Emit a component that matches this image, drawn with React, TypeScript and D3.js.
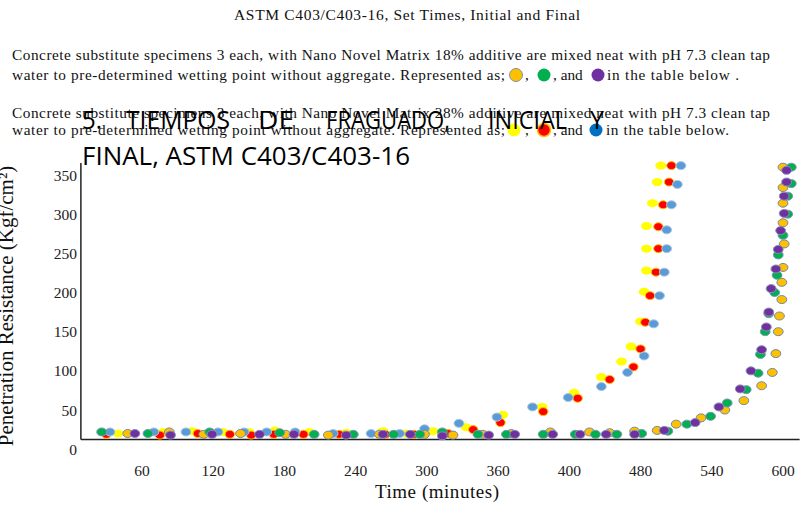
import * as d3 from "d3";

// [time (min), penetration resistance (Kgf/cm²)]
const orangeSeries: [number, number][] = [
  [48, 20], [83, 22], [112, 19], [143, 20], [181, 19], [217, 18], [260, 19], [298, 19], [322, 18],
  [347, 19], [371, 20], [404, 22], [437, 22], [454, 21], [475, 23], [494, 24], [510, 32], [531, 40],
  [551, 50], [567, 62], [582, 81], [591, 98], [594, 122], [596, 150], [597, 170], [599, 191],
  [599, 213], [600, 232], [601, 262], [600, 289], [600, 314], [600, 334], [600, 360],
];
const greenSeries: [number, number][] = [
  [26, 22], [65, 20], [117, 22], [176, 21], [205, 19], [238, 19], [272, 19], [294, 19], [313, 22],
  [343, 19], [367, 19], [398, 19], [425, 19], [442, 19], [460, 19], [481, 20], [503, 23], [519, 32],
  [539, 42], [553, 59], [569, 76], [579, 97], [581, 121], [585, 150], [588, 173], [593, 200],
  [595, 222], [596, 248], [600, 273], [604, 300], [604, 323], [607, 339], [607, 360],
];
const purpleSeries: [number, number][] = [
  [54, 20], [84, 18], [119, 19], [159, 19], [188, 19], [232, 18], [263, 19], [286, 19], [313, 17],
  [352, 18], [374, 19], [406, 19], [429, 19], [451, 19], [475, 19], [500, 24], [526, 34], [546, 54],
  [564, 77], [573, 100], [582, 127], [586, 156], [588, 175], [590, 205], [594, 230], [596, 255],
  [598, 279], [601, 301], [601, 323], [603, 341], [603, 356],
];
const yellowSeries: [number, number][] = [
  [40, 20], [78, 22], [102, 23], [128, 22], [150, 22], [172, 24], [201, 22], [232, 21], [263, 23],
  [282, 20], [305, 23], [333, 28], [364, 44], [397, 54], [424, 72], [447, 92], [464, 112],
  [472, 131], [480, 163], [483, 201], [485, 228], [485, 256], [485, 285], [490, 314], [494, 341],
  [497, 362],
];
const redSeries: [number, number][] = [
  [30, 19], [75, 18], [107, 20], [134, 19], [152, 18], [171, 19], [196, 19], [226, 19], [265, 19],
  [289, 19], [318, 20], [339, 25], [362, 34], [398, 48], [427, 65], [454, 89], [474, 105],
  [480, 128], [484, 162], [488, 196], [493, 226], [495, 256], [495, 284], [499, 312], [504, 341],
  [506, 362],
];
const blueSeries: [number, number][] = [
  [33, 22], [70, 22], [97, 22], [124, 22], [146, 22], [165, 22], [189, 22], [221, 20], [253, 20],
  [277, 20], [298, 26], [327, 33], [359, 41], [389, 54], [419, 66], [447, 80], [469, 98],
  [483, 119], [491, 160], [496, 196], [500, 226], [502, 256], [502, 280], [506, 312], [511, 338],
  [514, 362],
];

const xTickValues = [60, 120, 180, 240, 300, 360, 420, 480, 540, 600];
const xTickLabels = ["60", "120", "180", "240", "300", "360", "400", "480", "540", "600"];
const yTickValues = [0, 50, 100, 150, 200, 250, 300, 350];

const serif = "'Liberation Serif', 'Times New Roman', serif";
const sans = "'Open Sans', 'Noto Sans', sans-serif";

const seriesStyles = [
  { data: yellowSeries, fill: "#ffff00", stroke: "none", rx: 5.4 },
  { data: redSeries, fill: "#ff0000", stroke: "#ffc000", rx: 4.7 },
  { data: blueSeries, fill: "#5b9bd5", stroke: "#a8c6e6", rx: 4.9 },
  { data: orangeSeries, fill: "#ffc000", stroke: "#6f8aab", rx: 4.9 },
  { data: greenSeries, fill: "#00b050", stroke: "#7f96b3", rx: 4.9 },
  { data: purpleSeries, fill: "#7030a0", stroke: "#8a8fb5", rx: 4.9 },
];

export default function App() {
  const width = 801;
  const height = 505;

  const x = d3.scaleLinear().domain([0, 600]).range([70.8, 783]);
  const y = d3.scaleLinear().domain([0, 350]).range([449.2, 175]);

  const axisY = y(12.5);
  const axisX = x(8.5);

  return (
    <svg
      width={width}
      height={height}
      style={{ position: "absolute", left: 0, top: 0, background: "#fff" }}
    >
      {/* heading + notes */}
      <text x={407} y={20} textAnchor="middle" fontFamily={serif} fontSize={15.5} fill="#111" textLength={346}>
        ASTM C403/C403-16, Set Times, Initial and Final
      </text>

      <g fontFamily={serif} fontSize={15.3} fill="#111">
        <text x={12} y={60} textLength={758}>
          Concrete substitute specimens 3 each, with Nano Novel Matrix 18% additive are mixed neat with pH 7.3 clean tap
        </text>
        <text x={12} y={80} textLength={493}>
          water to pre-determined wetting point without aggregate. Represented as;
        </text>
        <text x={525} y={80}>,</text>
        <text x={553} y={80}>, and</text>
        <text x={607} y={80} textLength={132}>in the table below .</text>
        <circle cx={516} cy={75} r={6.5} fill="#ffc000" stroke="#7f93ad" strokeWidth={1} />
        <circle cx={544} cy={75} r={6.5} fill="#00b050" />
        <circle cx={598} cy={75} r={6.5} fill="#7030a0" />

        <text x={12} y={118} textLength={758}>
          Concrete substitute specimens 3 each, with Nano Novel Matrix 28% additive are mixed neat with pH 7.3 clean tap
        </text>
        <text x={12} y={135} textLength={493}>
          water to pre-determined wetting point without aggregate. Represented as;
        </text>
        <text x={525} y={135}>,</text>
        <text x={553} y={135}>, and</text>
        <text x={606} y={135} textLength={123}>in the table below.</text>
        <circle cx={514} cy={130} r={6.5} fill="#ffff00" />
        <circle cx={544} cy={130} r={6.5} fill="#ff0000" stroke="#ffc000" strokeWidth={1.5} />
        <circle cx={596} cy={130} r={6.5} fill="#0070c0" />
      </g>

      {/* overlaid slide heading */}
      <g fontFamily={sans} fontSize={26} fill="#000">
        <text x={82} y={129} textLength={20} lengthAdjust="spacingAndGlyphs">5.</text>
        <text x={126} y={129} textLength={104} lengthAdjust="spacingAndGlyphs">TIEMPOS</text>
        <text x={258} y={129} textLength={36} lengthAdjust="spacingAndGlyphs">DE</text>
        <text x={326} y={129} textLength={124} lengthAdjust="spacingAndGlyphs">FRAGUADO,</text>
        <text x={488} y={129} textLength={79} lengthAdjust="spacingAndGlyphs">INICIAL</text>
        <text x={590} y={129} textLength={14} lengthAdjust="spacingAndGlyphs">Y</text>
        <text x={82} y={165} textLength={328} lengthAdjust="spacingAndGlyphs">FINAL, ASTM C403/C403-16</text>
      </g>

      {/* axes */}
      <line x1={axisX} x2={axisX} y1={163} y2={axisY} stroke="#222" strokeWidth={1.5} />
      <line x1={axisX} x2={x(614)} y1={axisY} y2={axisY} stroke="#222" strokeWidth={1.5} />

      <g fontFamily={serif} fontSize={15.5} fill="#222">
        {yTickValues.map((v) => (
          <text key={v} x={77} y={y(v)} textAnchor="end" dominantBaseline="central">
            {v}
          </text>
        ))}
        {xTickValues.map((t, i) => (
          <text key={t} x={x(t)} y={470} textAnchor="middle" dominantBaseline="central">
            {xTickLabels[i]}
          </text>
        ))}
      </g>

      <text x={437} y={498} textAnchor="middle" fontFamily={serif} fontSize={19} fill="#111" textLength={124}>
        Time (minutes)
      </text>
      <text
        transform="translate(13,306) rotate(-90)"
        textAnchor="middle"
        fontFamily={serif}
        fontSize={21}
        fill="#111"
      >
        Penetration Resistance (Kgf/cm²)
      </text>

      {/* points */}
      {seriesStyles.map((s, si) => (
        <g key={si}>
          {s.data.map(([t, v], i) => (
            <ellipse
              key={i}
              cx={x(t)}
              cy={y(v)}
              rx={s.rx}
              ry={4}
              fill={s.fill}
              stroke={s.stroke}
              strokeWidth={1}
            />
          ))}
        </g>
      ))}
    </svg>
  );
}
